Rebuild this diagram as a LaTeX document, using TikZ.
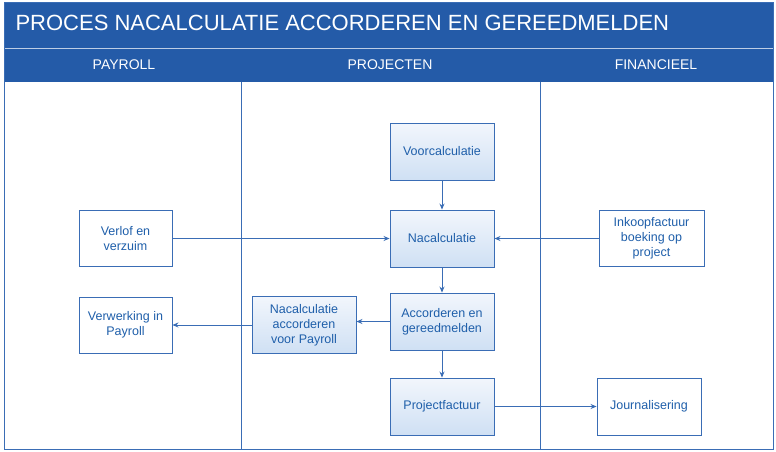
\documentclass[tikz,border=0pt]{standalone}
\usepackage{fontspec}
\setmainfont{Liberation Sans}
\usetikzlibrary{arrows.meta}
\definecolor{hdr}{HTML}{245BA8}
\definecolor{txt}{HTML}{1F5FAA}
\definecolor{edge}{HTML}{3A6DB5}
\definecolor{gtop}{HTML}{F2F6FC}
\definecolor{gbot}{HTML}{CFE0F4}
\tikzset{
  box/.style={draw=edge, line width=0.9pt, minimum width=104pt, minimum height=57pt, align=center, text=txt, font=\fontsize{12.5}{15}\selectfont, inner sep=2pt},
  gbox/.style={box, top color=gtop, bottom color=gbot},
  wbox/.style={box, fill=white, minimum width=93pt, minimum height=56pt},
  arr/.style={draw=edge, line width=0.8pt, -{Stealth[length=6pt,width=5pt]}},
  lane/.style={text=white, font=\fontsize{14}{16}\selectfont}
}
\begin{document}
\begin{tikzpicture}[x=1pt,y=-1pt]
\useasboundingbox (0,0) rectangle (776,451);
\fill[white] (0,0) rectangle (776,451);
\fill[hdr] (4,2) rectangle (773,82);
\draw[white!70!hdr, line width=0.8pt] (4,48.5) -- (773,48.5);
\draw[edge, line width=0.9pt] (4,2) rectangle (773,449);
\draw[edge, line width=0.8pt] (241,82) -- (241,449) (540,82) -- (540,449);
\node[anchor=west, text=white, font=\fontsize{22}{24}\selectfont] (title) at (12,23) {PROCES NACALCULATIE ACCORDEREN EN GEREEDMELDEN};
\node[lane] (l1) at (124,65) {PAYROLL};
\node[lane] (l2) at (390,65) {PROJECTEN};
\node[lane] (l3) at (656,65) {FINANCIEEL};
\node[gbox] (voor) at (442,151.5) {Voorcalculatie};
\node[gbox] (nac) at (442,238.5) {Nacalculatie};
\node[gbox] (acc) at (442,321.5) {Accorderen en\\gereedmelden};
\node[gbox] (pf) at (442,406.5) {Projectfactuur};
\node[gbox] (nap) at (304,325) {Nacalculatie\\accorderen\\voor Payroll};
\node[wbox] (verl) at (125.5,238.5) {Verlof en\\verzuim};
\node[wbox] (verw) at (125.5,325) {Verwerking in\\Payroll};
\node[wbox, minimum width=105pt] (ink) at (651.5,238.5) {Inkoopfactuur\\boeking op\\project};
\node[wbox, minimum width=104pt, minimum height=57pt] (jour) at (649,406.5) {Journalisering};
\draw[arr] (voor) -- (nac);
\draw[arr] (nac) -- (acc);
\draw[arr] (acc) -- (pf);
\draw[arr] (verl) -- (nac);
\draw[arr] (ink) -- (nac);
\draw[arr] (acc.west) -- (nap.east |- acc.west);
\draw[arr] (nap) -- (verw);
\draw[arr] (pf) -- (jour);
\end{tikzpicture}
\end{document}
